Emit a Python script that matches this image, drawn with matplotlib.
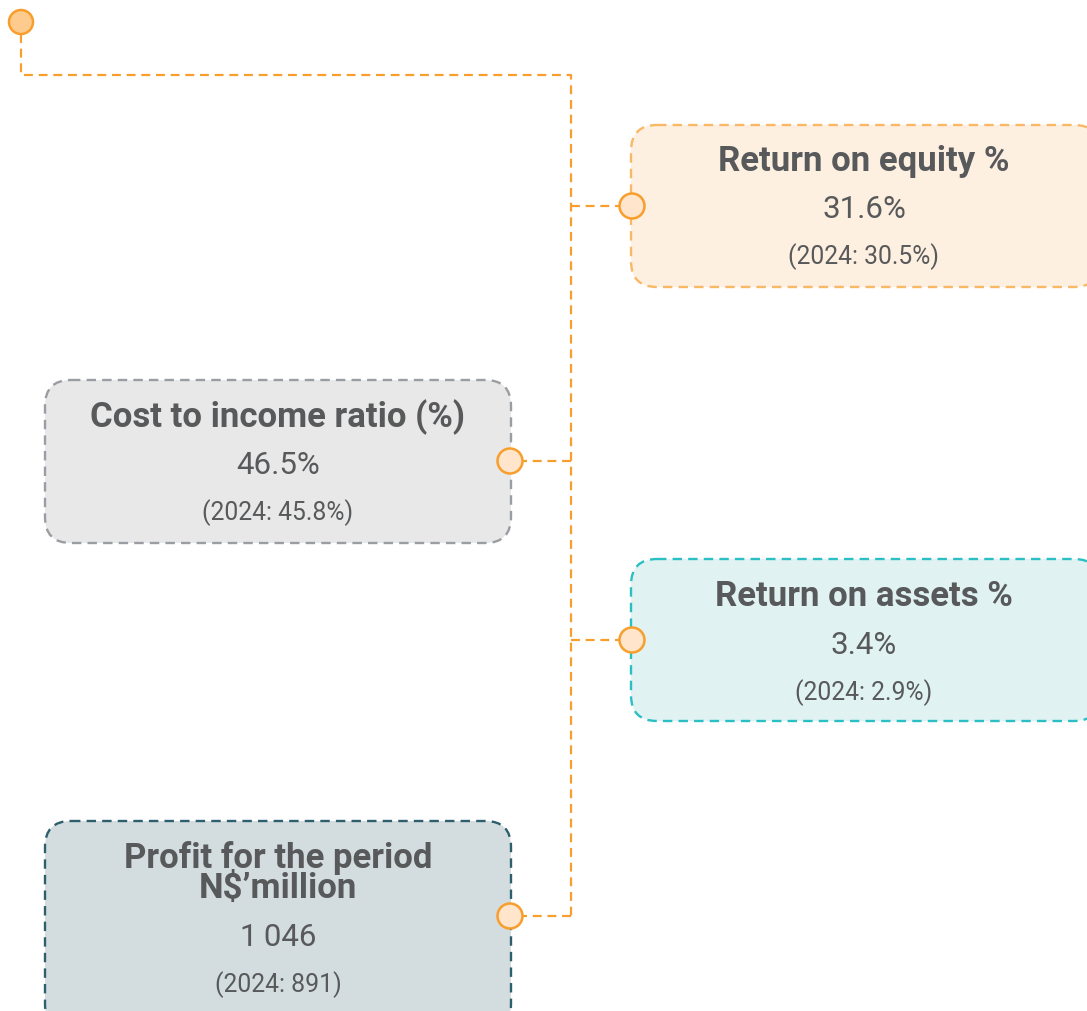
import matplotlib
matplotlib.use("Agg")
import matplotlib.pyplot as plt
from matplotlib.patches import FancyBboxPatch, Circle

# ---- data ----
titles = ["Return on equity %", "Cost to income ratio (%)", "Return on assets %",
          "Profit for the period\nN$\u2019million"]
values = ["31.6%", "46.5%", "3.4%", "1\u2009046"]
prior = ["(2024: 30.5%)", "(2024: 45.8%)", "(2024: 2.9%)", "(2024: 891)"]

# ---- layout (pixel coords) ----
W, H = 1087, 1011
boxes = [  # x0, y0, x1, y1
    (631, 125, 1100, 287),
    (45, 380, 511, 543),
    (631, 559, 1100, 721),
    (45, 821, 511, 1030),
]
text_cx = [864, 278, 864, 278]
title_y = [162, 417, 596, 873]
value_y = [210, 465, 645, 938]
prior_y = [257, 513, 693, 985]
faces = ["#FEF0E1", "#E8E8E8", "#E0F2F2", "#D3DCDF"]
edges = ["#F9B866", "#9A9DA1", "#2BBFC4", "#2E5F6C"]
dots = [(632, 206), (510, 461), (632, 640), (510, 916)]

orange = "#F79E2C"
txt = "#58595B"

plt.rcParams['font.family'] = ['Roboto', 'DejaVu Sans']
fig = plt.figure(figsize=(W / 100, H / 100), dpi=100)
ax = fig.add_axes([0, 0, 1, 1])
ax.set_xlim(0, W)
ax.set_ylim(H, 0)
ax.axis("off")

# connector lines
dash = (0, (4, 2.6))
trunk_x = 571
ax.plot([21, 21, trunk_x, trunk_x], [34, 75, 75, 916], color=orange, lw=1.6,
        linestyle=dash, zorder=1)
for (dx, dy) in dots:
    ax.plot([trunk_x, dx], [dy, dy], color=orange, lw=1.6, linestyle=dash, zorder=1)

# boxes
for (x0, y0, x1, y1), fc, ec in zip(boxes, faces, edges):
    p = FancyBboxPatch((x0, y0), x1 - x0, y1 - y0,
                       boxstyle="round,pad=0,rounding_size=26",
                       facecolor=fc, edgecolor=ec, lw=1.7,
                       linestyle=(0, (4, 2.6)), zorder=2)
    ax.add_patch(p)

# texts
for i in range(4):
    ax.text(text_cx[i], title_y[i], titles[i], ha="center", va="center",
            fontsize=25, fontweight="bold", color=txt, linespacing=0.87,
            zorder=4)
    ax.text(text_cx[i], value_y[i], values[i], ha="center", va="center",
            fontsize=22.5, fontweight="normal", color=txt, zorder=4)
    ax.text(text_cx[i], prior_y[i], prior[i], ha="center", va="center",
            fontsize=17.8, fontweight="normal", color=txt, zorder=4)

# dots
ax.add_patch(Circle((21, 22), 12, facecolor="#FECB8F", edgecolor=orange, lw=1.8, zorder=5))
for (dx, dy) in dots:
    ax.add_patch(Circle((dx, dy), 12.5, facecolor="#FEE5CC", edgecolor=orange,
                        lw=1.8, zorder=5))

fig.savefig("out.png", dpi=100, facecolor="white")
